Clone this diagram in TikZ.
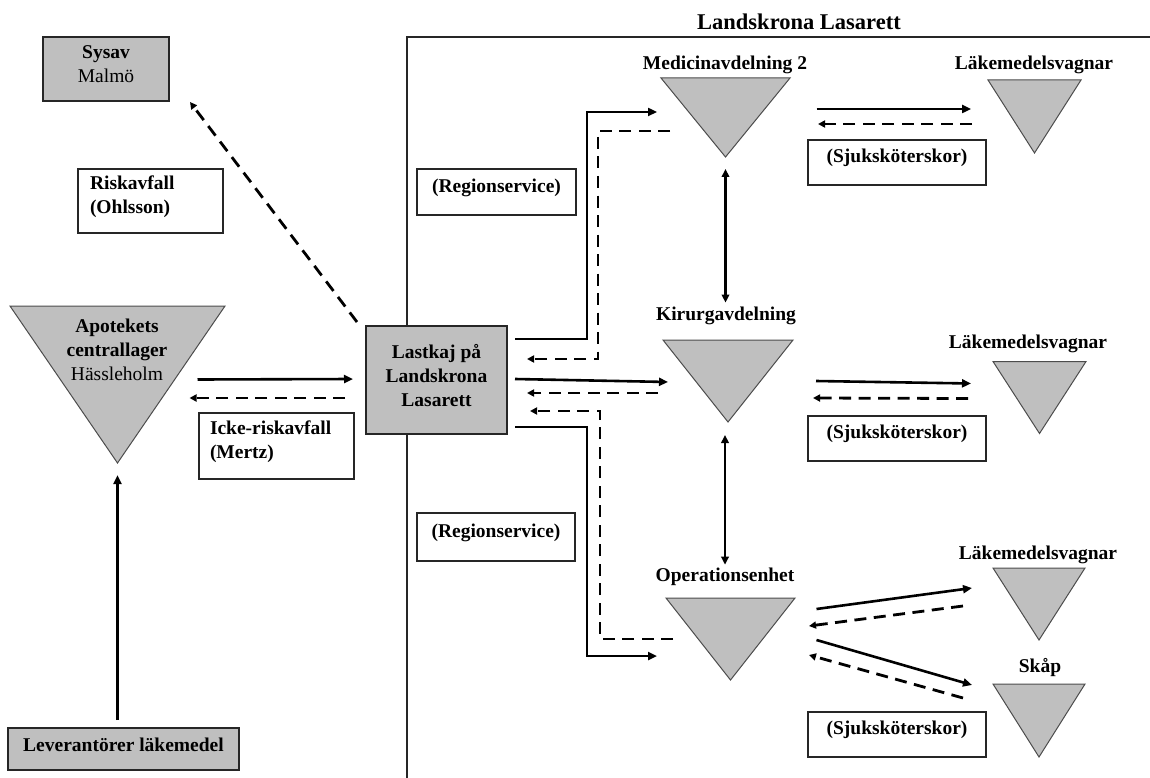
\documentclass[tikz,border=0pt]{standalone}
\usepackage{fontspec}
\setmainfont{Liberation Serif}
\usetikzlibrary{arrows.meta,calc}
\definecolor{boxgray}{RGB}{191,191,191}
\newcommand\fsize{\fontsize{19.5pt}{24pt}\selectfont}
\newcommand\tsize{\fontsize{22.5pt}{26pt}\selectfont}

\begin{document}
\begin{tikzpicture}[x=1pt,y=-1pt,
  every node/.style={inner sep=0pt, outer sep=0pt},
  graybox/.style={draw=black!85, line width=1.5pt, fill=boxgray},
  plainbox/.style={draw=black!85, line width=1.4pt, fill=white},
  boxtext/.style={font=\fsize\bfseries, yshift=4.5pt},
  head/.style={font=\fsize\bfseries},
  trinode/.style 2 args={minimum width=#1, minimum height=#2},
  tri/.style={fill=boxgray, draw=black!70, line width=1pt},
  frame/.style={draw=black!85, line width=1.5pt},
  flow/.style={line width=2.6pt, -{Triangle[length=9pt,width=8pt]}},
  back/.style={line width=2.8pt, dash pattern=on 12pt off 7.5pt, -{Triangle[length=7pt,width=7pt]}},
  both/.style={line width=2.2pt, {Triangle[length=8pt,width=7.5pt]}-{Triangle[length=8pt,width=7.5pt]}}
]
\useasboundingbox (0,0) rectangle (1150,778);

% hospital boundary and its title
\draw[frame] (407,778) |- (1150,37);
\node[font=\tsize\bfseries] (title) at (799,22) {Landskrona Lasarett};

% grey boxes
\node[graybox, minimum width=126, minimum height=64,
  label={[boxtext, align=center]center:Sysav\\\mdseries Malmö}] (sysav) at (106,69) {};
\node[graybox, minimum width=141, minimum height=108,
  label={[boxtext, align=center]center:Lastkaj på\\Landskrona\\Lasarett}] (lastkaj) at (436.5,380) {};
\node[graybox, minimum width=231, minimum height=42,
  label={[boxtext]center:Leverantörer läkemedel}] (lev) at (123.5,749) {};

% white label boxes
\node[plainbox, minimum width=145, minimum height=64,
  label={[boxtext, align=left, text width=121pt]center:Riskavfall\\(Ohlsson)}] (risk) at (150.5,201) {};
\node[plainbox, minimum width=155, minimum height=66,
  label={[boxtext, align=left, text width=133pt]center:Icke-riskavfall\\(Mertz)}] (icke) at (276.5,446) {};
\node[plainbox, minimum width=159, minimum height=46,
  label={[boxtext]center:(Regionservice)}] (reg1) at (496.5,192) {};
\node[plainbox, minimum width=158, minimum height=48,
  label={[boxtext]center:(Regionservice)}] (reg2) at (496,537) {};
\node[plainbox, minimum width=178, minimum height=45,
  label={[boxtext]center:(Sjuksköterskor)}] (sjuk1) at (897,162.5) {};
\node[plainbox, minimum width=178, minimum height=45,
  label={[boxtext]center:(Sjuksköterskor)}] (sjuk2) at (897,438.5) {};
\node[plainbox, minimum width=178, minimum height=45,
  label={[boxtext]center:(Sjuksköterskor)}] (sjuk3) at (897,734.5) {};

% storage points (downward triangles)
\node[trinode={215}{157}] (apo)  at (117.5,384.5) {};
\node[trinode={129}{79}]  (med2) at (725.5,117.5) {};
\node[trinode={130}{82}]  (kir)  at (728,381) {};
\node[trinode={129}{82}]  (oper) at (730.5,639) {};
\node[trinode={93}{73}]   (lak1) at (1034.5,116.5) {};
\node[trinode={93}{72}]   (lak2) at (1039.5,397.5) {};
\node[trinode={92}{72}]   (lak3) at (1039,604) {};
\node[trinode={92}{73}]   (skap) at (1039,720.5) {};
\foreach \t in {apo,med2,kir,oper,lak1,lak2,lak3,skap}
  \filldraw[tri] (\t.north west) -- (\t.north east) -- (\t.south) -- cycle;

% names of the storage points
\node[font=\fsize, align=center] (apotxt) at (117,350)
  {\textbf{Apotekets}\\\textbf{centrallager}\\Hässleholm};
\node[head] (med2lbl) at (725,65) {Medicinavdelning 2};
\node[head] (kirlbl)  at (726,315.5) {Kirurgavdelning};
\node[head] (operlbl) at (725,576.5) {Operationsenhet};
\node[head] (lak1lbl) at (1034,65) {Läkemedelsvagnar};
\node[head] (lak2lbl) at (1028,343.5) {Läkemedelsvagnar};
\node[head] (lak3lbl) at (1038,555) {Läkemedelsvagnar};
\node[head] (skaplbl) at (1040,667.5) {Skåp};

% supply and waste flows outside the hospital
\draw[back] ($(lastkaj.north west)+(-9,-4)$) -- ($(sysav.south east)+(21,1)$);
\draw[flow] ($(apo.center)+(80,-5)$) -- ($(lastkaj.west)+(-13,-1)$);
\draw[back] ($(lastkaj.west)+(-21,18)$) -- ($(apo.center)+(72,13.5)$);
\draw[flow] ($(apo.south |- lev.north)+(0,-8)$) -- ($(apo.south)+(0,12)$);

% flows between the loading dock and the wards
\draw[flow] ($(lastkaj.east)+(8,-41)$) -| ($(med2.west)+(-74,-5.5)$) -- ($(med2.west)+(-4,-5.5)$);
\draw[back] ($(med2.west)+(9,13.5)$) -| ($(lastkaj.east)+(91,-21)$) -- ($(lastkaj.east)+(20,-21)$);
\draw[flow] ($(lastkaj.east)+(8,-1)$) -- ($(kir.west)+(5,1)$);
\draw[back] ($(kir.west)+(-5,12)$) -- ($(lastkaj.east)+(20,13)$);
\draw[back] ($(oper.west)+(7,0)$) -| ($(lastkaj.east)+(93,31)$) -- ($(lastkaj.east)+(23,31)$);
\draw[flow] ($(lastkaj.east)+(8,47)$) -| ($(oper.west)+(-79,17)$) -- ($(oper.west)+(-9,17)$);

% links between the wards
\draw[both] ($(med2.south)+(0,12)$) -- ($(med2.south |- kirlbl.north)+(0,-4)$);
\draw[both] ($(kir.south)+(-3,13)$) -- ($(kir.south |- operlbl.north)+(-3,-3)$);

% flows to the trolleys and cupboards
\draw[flow] ($(med2.east)+(26.5,-8.5)$) -- ($(lak1.west)+(-17,-7.5)$);
\draw[back] ($(lak1.west)+(-16,7.5)$) -- ($(med2.east)+(28,6.5)$);
\draw[flow] ($(kir.east)+(23,0)$) -- ($(lak2.west)+(-22,-14)$);
\draw[back] ($(lak2.west)+(-25,1)$) -- ($(kir.east)+(20,17)$);
\draw[flow] ($(oper.east)+(21.5,-30)$) -- ($(lak3.west)+(-21,-16)$);
\draw[back] ($(lak3.west)+(-30,2)$) -- ($(oper.east)+(14,-13)$);
\draw[flow] ($(oper.east)+(21.5,1)$) -- ($(skap.west)+(-21,-35.5)$);
\draw[back] ($(skap.west)+(-30,-22.5)$) -- ($(oper.east)+(14,16)$);
\end{tikzpicture}
\end{document}
